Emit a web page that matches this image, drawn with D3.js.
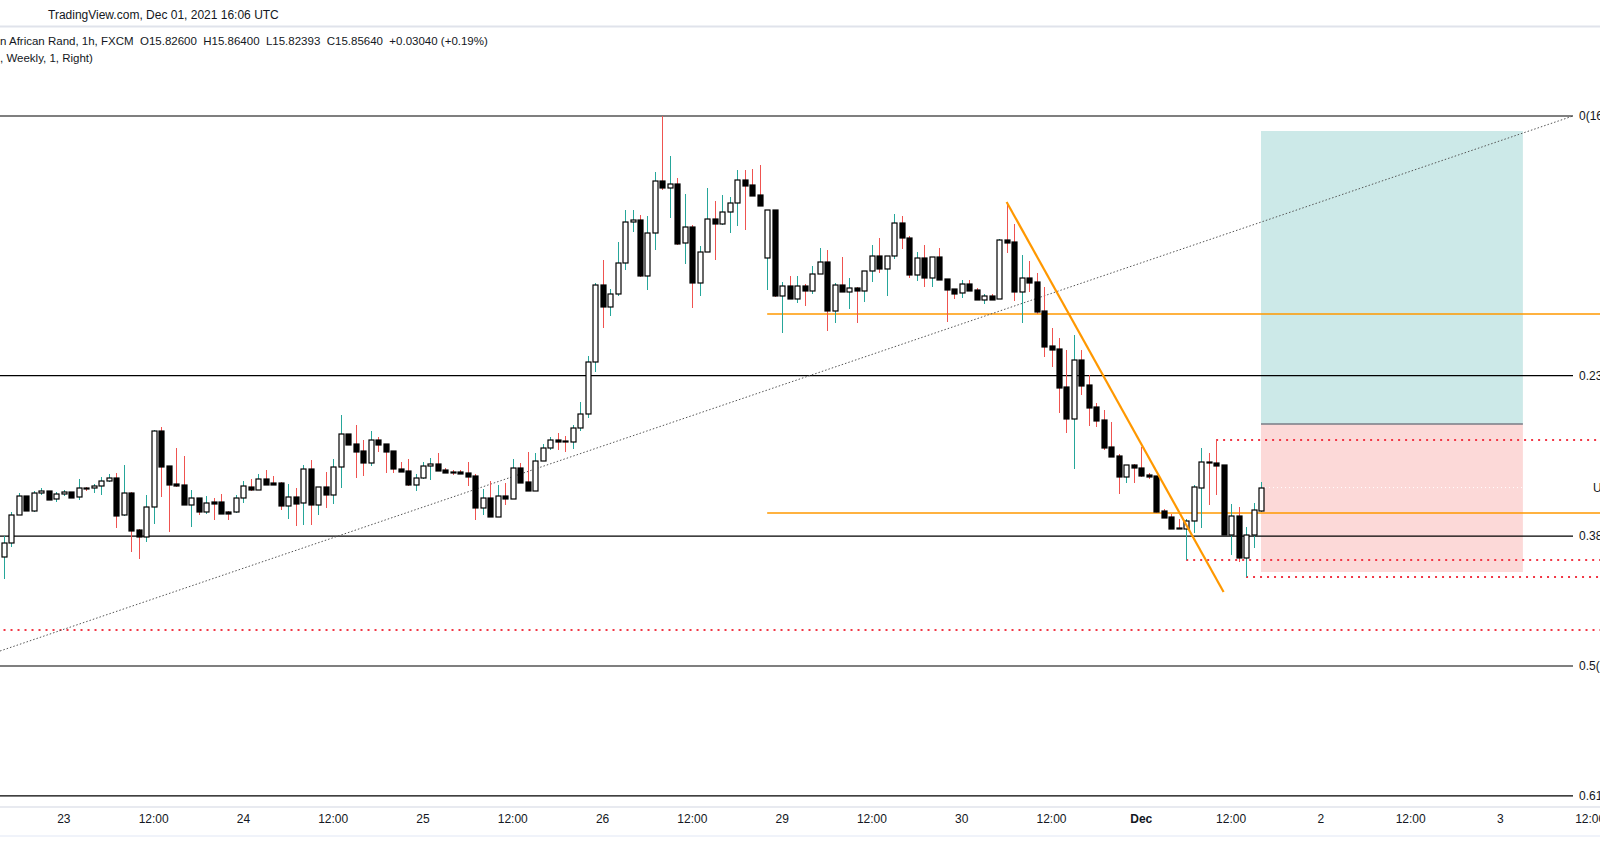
<!DOCTYPE html>
<html>
<head>
<meta charset="utf-8">
<script src="https://cdn.jsdelivr.net/npm/d3@7"></script>
<style>
  body { margin: 0; background: #fff; }
  text { font-family: "Liberation Sans", "DejaVu Sans", sans-serif; fill: #131722; }
</style>
</head>
<body>
<svg id="chart" width="1600" height="868"></svg>
<script>
// hourly candles, USD/ZAR
var opens = [15.787,15.801,15.829,15.848,15.833,15.851,15.853,15.845,15.850,15.852,15.847,15.856,15.856,15.858,15.863,15.866,15.829,15.851,15.814,15.807,
  15.837,15.913,15.878,15.860,15.859,15.839,15.846,15.832,15.842,15.842,15.832,15.832,15.846,15.857,15.854,15.865,15.861,15.861,15.838,15.847,
  15.841,15.875,15.839,15.857,15.849,15.877,15.910,15.900,15.893,15.881,15.904,15.900,15.893,15.875,15.873,15.859,15.866,15.878,15.880,15.874,
  15.872,15.872,15.871,15.868,15.836,15.846,15.827,15.848,15.845,15.876,15.862,15.853,15.883,15.896,15.904,15.903,15.902,15.916,15.930,15.982,
  16.059,16.037,16.050,16.081,16.122,16.124,16.068,16.111,16.163,16.156,16.160,16.101,16.117,16.061,16.092,16.125,16.120,16.132,16.141,16.164,
  16.159,16.149,16.086,16.134,16.048,16.058,16.045,16.058,16.053,16.070,16.082,16.033,16.059,16.052,16.056,16.053,16.073,16.088,16.075,16.088,
  16.121,16.106,16.069,16.086,16.066,16.087,16.065,16.055,16.051,16.060,16.054,16.044,16.048,16.045,16.104,16.102,16.052,16.066,16.062,16.033,
  15.998,15.995,15.957,15.925,15.984,15.959,15.937,15.924,15.897,15.888,15.867,15.879,15.876,15.869,15.868,15.833,15.827,15.816,15.815,15.823,
  15.856,15.882,15.881,15.879,15.809,15.828,15.786,15.809,15.833];
var highs = [15.808,15.832,15.851,15.848,15.853,15.856,15.853,15.852,15.854,15.852,15.865,15.857,15.860,15.867,15.870,15.871,15.879,15.852,15.815,15.849,
  15.914,15.917,15.878,15.896,15.888,15.854,15.846,15.848,15.846,15.850,15.833,15.849,15.863,15.865,15.870,15.874,15.868,15.862,15.860,15.856,
  15.879,15.884,15.857,15.872,15.885,15.929,15.910,15.919,15.904,15.913,15.907,15.900,15.893,15.882,15.885,15.870,15.882,15.886,15.891,15.876,
  15.874,15.874,15.882,15.870,15.855,15.863,15.859,15.861,15.885,15.881,15.892,15.891,15.900,15.907,15.911,15.908,15.919,15.942,15.988,16.061,
  16.084,16.055,16.102,16.134,16.134,16.129,16.128,16.172,16.228,16.188,16.166,16.150,16.119,16.098,16.156,16.143,16.149,16.147,16.174,16.174,
  16.175,16.179,16.134,16.134,16.062,16.068,16.068,16.060,16.078,16.096,16.094,16.061,16.087,16.066,16.057,16.073,16.099,16.106,16.088,16.130,
  16.128,16.108,16.092,16.099,16.087,16.096,16.065,16.055,16.064,16.064,16.056,16.050,16.050,16.105,16.142,16.120,16.089,16.083,16.071,16.057,
  16.016,16.006,15.994,16.009,15.994,15.969,15.941,15.934,15.922,15.890,15.879,15.880,15.897,15.871,15.868,15.835,15.830,15.825,15.825,15.859,
  15.896,15.891,15.904,15.879,15.840,15.837,15.817,15.841,15.862];
var lows = [15.765,15.797,15.829,15.833,15.832,15.849,15.844,15.842,15.848,15.846,15.844,15.853,15.851,15.849,15.862,15.816,15.828,15.792,15.785,15.802,
  15.820,15.847,15.812,15.857,15.839,15.817,15.829,15.830,15.824,15.830,15.824,15.831,15.841,15.853,15.854,15.859,15.859,15.834,15.825,15.818,
  15.819,15.819,15.829,15.836,15.840,15.856,15.899,15.866,15.868,15.878,15.892,15.871,15.871,15.872,15.858,15.853,15.865,15.864,15.873,15.871,
  15.869,15.870,15.858,15.824,15.829,15.827,15.827,15.839,15.845,15.861,15.853,15.853,15.883,15.894,15.894,15.892,15.895,15.913,15.926,15.972,
  16.016,16.028,16.048,16.074,16.112,16.067,16.054,16.094,16.154,16.126,16.099,16.080,16.036,16.048,16.092,16.084,16.119,16.111,16.118,16.114,
  16.148,16.138,16.054,16.047,16.011,16.045,16.041,16.038,16.050,16.070,16.013,16.021,16.052,16.035,16.021,16.042,16.062,16.071,16.048,16.085,
  16.095,16.066,16.063,16.057,16.057,16.064,16.022,16.045,16.046,16.053,16.044,16.040,16.044,16.045,16.091,16.043,16.021,16.052,16.030,15.987,
  15.977,15.931,15.911,15.875,15.949,15.918,15.917,15.894,15.887,15.850,15.861,15.861,15.867,15.865,15.831,15.826,15.815,15.815,15.784,15.811,
  15.816,15.839,15.849,15.809,15.789,15.782,15.767,15.796,15.832];
var closes = [15.801,15.829,15.848,15.833,15.851,15.853,15.844,15.850,15.852,15.846,15.856,15.855,15.858,15.863,15.866,15.828,15.851,15.813,15.807,15.837,
  15.913,15.877,15.859,15.858,15.839,15.846,15.832,15.841,15.840,15.830,15.830,15.846,15.858,15.854,15.865,15.859,15.859,15.838,15.847,15.840,
  15.875,15.839,15.857,15.849,15.877,15.910,15.899,15.892,15.881,15.904,15.899,15.892,15.875,15.872,15.859,15.866,15.878,15.880,15.873,15.871,
  15.871,15.870,15.867,15.836,15.846,15.827,15.848,15.845,15.876,15.861,15.853,15.883,15.896,15.904,15.902,15.902,15.916,15.930,15.982,16.059,
  16.037,16.050,16.081,16.122,16.124,16.068,16.111,16.163,16.156,16.160,16.100,16.117,16.061,16.092,16.125,16.120,16.132,16.141,16.164,16.158,
  16.148,16.138,16.134,16.048,16.058,16.045,16.058,16.053,16.070,16.082,16.033,16.059,16.052,16.056,16.053,16.073,16.088,16.075,16.088,16.121,
  16.106,16.069,16.086,16.066,16.087,16.064,16.054,16.050,16.060,16.053,16.044,16.048,16.044,16.104,16.101,16.052,16.066,16.061,16.032,15.997,
  15.994,15.956,15.925,15.984,15.958,15.936,15.923,15.896,15.887,15.867,15.879,15.876,15.868,15.867,15.832,15.826,15.815,15.815,15.823,15.857,
  15.882,15.881,15.878,15.809,15.828,15.786,15.809,15.834,15.856];

var tickIdx = [8,20,32,44,56,68,80,92,104,116,128,140,152,164,176,188,200,212];
var tickLabels = ["23","12:00","24","12:00","25","12:00","26","12:00","29","12:00","30","12:00","Dec","12:00","2","12:00","3","12:00"];

// fibonacci retracement (weekly)
var fibHigh = 16.228, fibLow = 15.128;
var fibLevels = [0, 0.236, 0.382, 0.5, 0.618];

// drawings: [startIndex, price] pairs
var orangeLevels = [16.030, 15.831];
var orangeFrom = 102;
var trendLine = [[134, 16.142], [163, 15.752]];
var dottedTrend = [[-0.53, 15.693], [209.7, 16.228]];
var redLevels = [[-1, 15.714], [162, 15.904], [158, 15.784], [166, 15.767]];
var position = { from: 168, to: 203, entry: 15.920, target: 16.213, stop: 15.772 };
var lastPrice = 15.8564;

var svg = d3.select("#chart");
var x = d3.scaleLinear().domain([0, 168]).range([4, 1261]);
var y = d3.scaleLinear().domain([16.344, 15.444]).range([0, 900]);
var W = 1600, plotRight = 1573;

// header
svg.append("text").attr("x", 48).attr("y", 19).attr("font-size", 12)
  .text("TradingView.com, Dec 01, 2021 16:06 UTC");
svg.append("line").attr("x1", 0).attr("x2", W).attr("y1", 26.5).attr("y2", 26.5)
  .attr("stroke", "#e0e3eb").attr("stroke-width", 2);
svg.append("text").attr("x", 0).attr("y", 45).attr("font-size", 11.5)
  .text("n African Rand, 1h, FXCM \u00a0O15.82600 \u00a0H15.86400 \u00a0L15.82393 \u00a0C15.85640 \u00a0+0.03040 (+0.19%)");
svg.append("text").attr("x", 0).attr("y", 62).attr("font-size", 11.5)
  .text(", Weekly, 1, Right)");

// position box
var p = position;
svg.append("rect").attr("x", x(p.from)).attr("width", x(p.to) - x(p.from))
  .attr("y", y(p.target)).attr("height", y(p.entry) - y(p.target)).attr("fill", "#cce9e8");
svg.append("rect").attr("x", x(p.from)).attr("width", x(p.to) - x(p.from))
  .attr("y", y(p.entry)).attr("height", y(p.stop) - y(p.entry)).attr("fill", "#fcd9d8");
svg.append("line").attr("x1", x(p.from)).attr("x2", x(p.to)).attr("y1", y(p.entry)).attr("y2", y(p.entry))
  .attr("stroke", "#787b86").attr("stroke-width", 1.5);
svg.append("line").attr("x1", x(p.from)).attr("x2", x(p.to)).attr("y1", y(lastPrice)).attr("y2", y(lastPrice))
  .attr("stroke", "#fff").attr("stroke-dasharray", "1,3");

// fib levels
var fib = svg.append("g");
fibLevels.forEach(function(l) {
  var price = fibHigh - l * (fibHigh - fibLow);
  fib.append("line").attr("x1", 0).attr("x2", plotRight).attr("y1", y(price)).attr("y2", y(price))
    .attr("stroke", "#000").attr("stroke-width", 1.2);
  fib.append("text").attr("x", plotRight + 6).attr("y", y(price) + 4).attr("font-size", 12)
    .text(l + "(" + price.toFixed(5) + ")");
});
svg.append("text").attr("x", 1593).attr("y", y(lastPrice) + 4).attr("font-size", 12).text("USDZAR");

// red dotted levels
redLevels.forEach(function(r) {
  svg.append("line").attr("x1", x(r[0])).attr("x2", W).attr("y1", y(r[1])).attr("y2", y(r[1]))
    .attr("stroke", "#f23645").attr("stroke-width", 2).attr("stroke-dasharray", "2,5");
});

// orange horizontals
orangeLevels.forEach(function(v) {
  svg.append("line").attr("x1", x(orangeFrom)).attr("x2", W).attr("y1", y(v)).attr("y2", y(v))
    .attr("stroke", "#ff9800").attr("stroke-width", 1.3);
});

// dotted trend
svg.append("line").attr("x1", x(dottedTrend[0][0])).attr("y1", y(dottedTrend[0][1]))
  .attr("x2", x(dottedTrend[1][0])).attr("y2", y(dottedTrend[1][1]))
  .attr("stroke", "#555").attr("stroke-width", 1).attr("stroke-dasharray", "1.5,2");

// candles
var data = opens.map(function(o, i) { return { i: i, o: o, h: highs[i], l: lows[i], c: closes[i] }; });
var cg = svg.append("g").selectAll("g").data(data).join("g");
cg.append("line")
  .attr("x1", function(d) { return Math.round(x(d.i)) + 0.5; })
  .attr("x2", function(d) { return Math.round(x(d.i)) + 0.5; })
  .attr("y1", function(d) { return y(d.h); }).attr("y2", function(d) { return y(d.l); })
  .attr("stroke", function(d) { return d.c >= d.o ? "#26a69a" : "#ef5350"; }).attr("stroke-width", 1);
cg.append("rect")
  .attr("x", function(d) { return Math.round(x(d.i)) - 2; }).attr("width", 5)
  .attr("y", function(d) { return y(Math.max(d.o, d.c)); })
  .attr("height", function(d) { return Math.max(1, Math.abs(y(d.o) - y(d.c))); })
  .attr("fill", function(d) { return d.c >= d.o ? "#fff" : "#000"; })
  .attr("stroke", "#000").attr("stroke-width", 1.2);

// orange trend line on top
svg.append("line").attr("x1", x(trendLine[0][0])).attr("y1", y(trendLine[0][1]))
  .attr("x2", x(trendLine[1][0])).attr("y2", y(trendLine[1][1]))
  .attr("stroke", "#ff9800").attr("stroke-width", 2.2);

// time axis
svg.append("line").attr("x1", 0).attr("x2", W).attr("y1", 807).attr("y2", 807).attr("stroke", "#e0e3eb").attr("stroke-width", 1.5);
svg.append("line").attr("x1", 0).attr("x2", W).attr("y1", 836).attr("y2", 836).attr("stroke", "#f0f3fa").attr("stroke-width", 2);
svg.append("g").selectAll("text").data(tickIdx).join("text")
  .attr("x", function(d) { return x(d); }).attr("y", 823).attr("text-anchor", "middle").attr("font-size", 12)
  .attr("font-weight", function(d, i) { return tickLabels[i] === "Dec" ? "bold" : "normal"; })
  .text(function(d, i) { return tickLabels[i]; });
</script>
</body>
</html>
